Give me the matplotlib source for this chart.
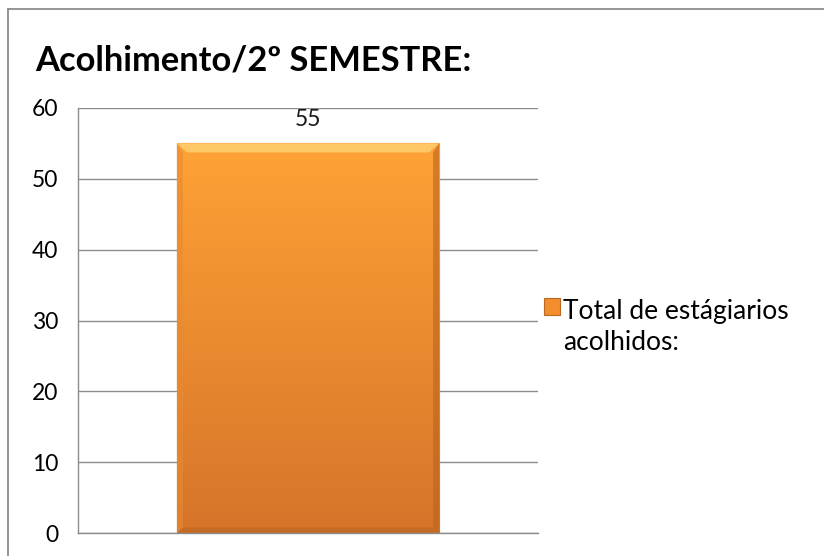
import matplotlib
matplotlib.use("Agg")
import matplotlib.pyplot as plt
from matplotlib.patches import Polygon
from matplotlib.lines import Line2D
import numpy as np

plt.rcParams["font.family"] = ["Lato", "DejaVu Sans"]

title = "Acolhimento/2º SEMESTRE:"
categories = ["Acolhimento"]
values = [55]
series_label = "Total de estágiarios\nacolhidos:"
yticks = [0, 10, 20, 30, 40, 50, 60]

fig = plt.figure(figsize=(8.24, 5.56), dpi=100)
W, H = 824, 556

# outer chart border (only top/left visible in the frame)
fig.add_artist(Line2D([8 / W, 1.0], [1 - 9 / H, 1 - 9 / H], color="#8c8c8c", lw=1.3))
fig.add_artist(Line2D([8 / W, 8 / W], [0.0, 1 - 9 / H], color="#8c8c8c", lw=1.3))

ax = fig.add_axes([78 / W, 1 - 533 / H, (538 - 78) / W, (533 - 108) / H])
ax.set_ylim(0, 60)
ax.set_xlim(-0.5, 0.5)
ax.set_yticks(yticks)
ax.yaxis.grid(True, color="#8c8c8c", lw=1.0)
ax.set_axisbelow(True)
for s in ("top", "right"):
    ax.spines[s].set_visible(False)
for s in ("left", "bottom"):
    ax.spines[s].set_color("#8c8c8c")
    ax.spines[s].set_linewidth(1.0)
ax.tick_params(axis="y", length=0, pad=14, labelsize=16.5)
ax.tick_params(axis="x", length=0, labelbottom=False)

x = np.arange(len(categories))
bars = ax.bar(x, values, width=0.57, color="#f28e2e", edgecolor="#b86a25", lw=0.8, zorder=2)

# vertical gradient + bevel on each bar
grad = np.linspace(0, 1, 256).reshape(-1, 1)
cmap = matplotlib.colors.LinearSegmentedColormap.from_list("o", ["#d6742a", "#ffa236"])
for b in bars:
    x0, y0, w, h = b.get_x(), b.get_y(), b.get_width(), b.get_height()
    im = ax.imshow(grad, extent=[x0, x0 + w, y0, y0 + h], origin="lower", aspect="auto",
                   cmap=cmap, zorder=2.1)
    im.set_clip_path(b)
    dx = 10 / ((538 - 78) / 1.0)
    dy = 9 * 60 / 425
    top = Polygon([[x0, y0 + h], [x0 + w, y0 + h], [x0 + w - dx, y0 + h - dy], [x0 + dx, y0 + h - dy]],
                  closed=True, color="#ffcf70", alpha=0.85, lw=0, zorder=2.2)
    left = Polygon([[x0, y0], [x0, y0 + h], [x0 + dx * 0.6, y0 + h - dy], [x0 + dx * 0.6, y0 + dy * 0.6]],
                   closed=True, color="#e88a30", alpha=0.6, lw=0, zorder=2.2)
    right = Polygon([[x0 + w, y0], [x0 + w, y0 + h], [x0 + w - dx * 0.6, y0 + h - dy], [x0 + w - dx * 0.6, y0 + dy * 0.6]],
                    closed=True, color="#b8641f", alpha=0.6, lw=0, zorder=2.2)
    bottom = Polygon([[x0, y0], [x0 + w, y0], [x0 + w - dx * 0.6, y0 + dy * 0.6], [x0 + dx * 0.6, y0 + dy * 0.6]],
                     closed=True, color="#b8641f", alpha=0.5, lw=0, zorder=2.2)
    for p in (top, left, right, bottom):
        ax.add_patch(p)
    ax.annotate(f"{values[0]}", (x0 + w / 2, y0 + h), xytext=(0, 17), textcoords="offset points",
                ha="center", va="center", fontsize=16.5, color="#1a1a1a")

fig.text(35 / W, 1 - 60 / H, title, fontsize=24.8, fontweight="bold", ha="left", va="center", color="black")

# legend
lg = ax.legend([bars[0]], [series_label], loc="center left", bbox_to_anchor=(0.99, 0.485),
               frameon=False, fontsize=19, handlelength=0.6, handleheight=0.6,
               handletextpad=0.12, borderaxespad=0.0)
for t in lg.get_texts():
    t.set_linespacing(1.33)
# put the key next to the first line, like Excel does
hp = lg.legend_handles[0]
hp.set_y(hp.get_y() + 15)

fig.savefig("out.png", dpi=100, facecolor="white")
